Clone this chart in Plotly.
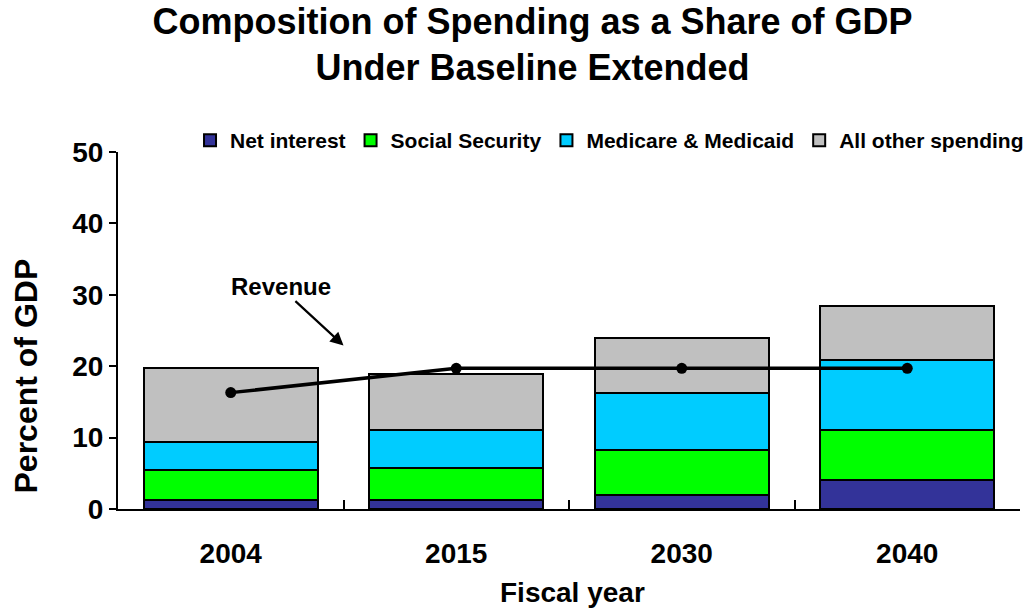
import plotly.graph_objects as go

# Fiscal years shown on the category axis
years = ["2004", "2015", "2030", "2040"]

# Spending components, percent of GDP
net_interest = [1.3, 1.3, 1.9, 4.1]
social_security = [4.2, 4.5, 6.4, 7.0]
medicare_medicaid = [3.9, 5.3, 7.9, 9.8]
all_other = [10.4, 7.8, 7.8, 7.6]

# Revenue, percent of GDP
revenue = [16.3, 19.7, 19.7, 19.7]

series = [
    ("Net interest", net_interest, "#333399"),
    ("Social Security", social_security, "#00FF00"),
    ("Medicare & Medicaid", medicare_medicaid, "#00CCFF"),
    ("All other spending", all_other, "#C0C0C0"),
]

FONT = "Liberation Sans, Arial, sans-serif"

fig = go.Figure()
for name, vals, color in series:
    fig.add_trace(go.Bar(
        x=years, y=vals, name=name,
        marker=dict(color=color, line=dict(color="black", width=2)),
    ))

fig.add_trace(go.Scatter(
    x=years, y=revenue, mode="lines+markers", name="Revenue",
    showlegend=False,
    line=dict(color="black", width=3.5),
    marker=dict(color="black", size=11),
))

fig.update_layout(
    width=1031, height=610,
    margin=dict(l=118, r=11, t=152, b=101, autoexpand=False),
    paper_bgcolor="white", plot_bgcolor="white",
    font=dict(family=FONT, color="black", weight="bold"),
    barmode="stack", bargap=0.23,
    title=dict(
        text="Composition of Spending as a Share of GDP<br>Under Baseline Extended",
        font=dict(family=FONT, size=36, color="black", weight="bold"),
        x=0.5165, xanchor="center", xref="container",
        y=0.945, yanchor="middle", yref="container",
    ),
    legend=dict(
        orientation="h", traceorder="normal",
        x=1.01, xanchor="right", y=1.032, yanchor="middle",
        font=dict(family=FONT, size=21, color="black", weight="bold"),
        itemwidth=30, bgcolor="rgba(0,0,0,0)",
    ),
    showlegend=True,
)

fig.update_yaxes(
    range=[0, 50], dtick=10, showgrid=False, zeroline=False,
    showline=True, linecolor="black", linewidth=2,
    ticks="outside", ticklen=7, tickwidth=2, tickcolor="black",
    tickfont=dict(family=FONT, size=28, color="black", weight="bold"),
)
fig.update_xaxes(
    type="category", showgrid=False, zeroline=False,
    showline=True, linecolor="black", linewidth=2,
    ticks="inside", tickson="boundaries", ticklen=9, tickwidth=2, tickcolor="black",
    tickfont=dict(family=FONT, size=28, color="black", weight="bold"),
    ticklabelstandoff=18,
)

# Axis titles and the revenue callout
fig.add_annotation(
    text="Percent of GDP", textangle=-90, showarrow=False,
    xref="paper", yref="paper", x=-0.102, y=0.374,
    xanchor="center", yanchor="middle",
    font=dict(family=FONT, size=32, color="black", weight="bold"),
)
fig.add_annotation(
    text="Fiscal year", showarrow=False,
    xref="paper", yref="paper", x=0.5044, y=-0.235,
    xanchor="center", yanchor="middle",
    font=dict(family=FONT, size=28, color="black", weight="bold"),
)
fig.add_annotation(
    text="Revenue", showarrow=False,
    xref="paper", yref="paper", x=0.1807, y=0.622,
    xanchor="center", yanchor="middle",
    font=dict(family=FONT, size=24, color="black", weight="bold"),
)
fig.add_annotation(
    text="", showarrow=True,
    xref="x", yref="y", axref="x", ayref="y",
    x=0.5, y=22.9, ax=0.28, ay=29.3,
    arrowhead=2, arrowsize=1.2, arrowwidth=2.2, arrowcolor="black",
)

fig.write_html("out.html")
